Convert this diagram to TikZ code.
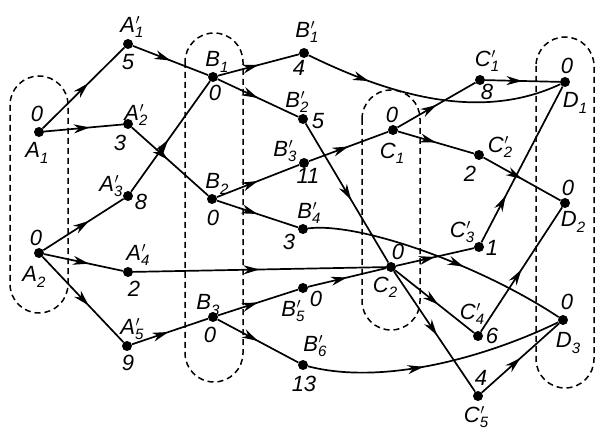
\documentclass[tikz,border=0pt]{standalone}
\usepackage{fontspec}
\setmainfont{Liberation Sans}
\usetikzlibrary{arrows.meta,decorations.markings}

\newcommand\subsz{\fontsize{15}{17}\selectfont}
\newcommand\sub[2]{#1\raisebox{-0.45ex}{\subsz#2}}
\newcommand\subp[2]{#1\makebox[0pt][l]{\kern0.5pt$^{\prime}$}\raisebox{-0.45ex}{\subsz#2}}

\begin{document}
\begin{tikzpicture}[
    x=1pt, y=-1pt,
    vtx/.style={
        circle,
        fill,
        inner sep=0pt,
        minimum size=10pt
    },
    lab/.style={
        font=\fontsize{22}{26}\selectfont\itshape,
        inner sep=0pt
    },
    lb/.style n args={3}{label={[lab,xshift=#1pt,yshift=#2pt]center:#3}},
    edge/.style={line width=1.7pt},
    arr/.style={
        edge,
        postaction={decorate},
        decoration={markings,
            mark=at position #1 with {\arrow{Stealth[length=16pt,width=9pt,inset=5pt]}}}
    },
    arr/.default=0.5,
    grp/.style={line width=1.5pt, dash pattern=on 6pt off 4pt, rounded corners=29pt}
]
\useasboundingbox (0,0) rectangle (600,435);

% Groups
\draw[grp] (10,76) rectangle (68,313);
\draw[grp] (185,33) rectangle (243,382);
\draw[grp] (362,90) rectangle (420,330);
\draw[grp] (536,37) rectangle (594,388);

% Nodes
\node[vtx, lb={-2}{18}{0}, lb={-2}{-21}{\sub{A}{1}}] (a1) at (39,132) {};
\node[vtx, lb={-3}{15}{0}, lb={-5}{-24}{\sub{A}{2}}] (a2) at (39,253) {};

\node[vtx, lb={4}{17}{\subp{A}{1}}, lb={0}{-18}{5}] (a1p) at (128,44) {};
\node[vtx, lb={8}{9}{\subp{A}{2}}, lb={-8}{-19}{3}] (a2p) at (128,124) {};
\node[vtx, lb={-17}{10}{\subp{A}{3}}, lb={13}{-6}{8}] (a3p) at (128,196) {};
\node[vtx, lb={10}{17}{\subp{A}{4}}, lb={6}{-17}{2}] (a4p) at (128,272) {};
\node[vtx, lb={5}{17}{\subp{A}{5}}, lb={1}{-17}{9}] (a5p) at (127,346) {};

\node[vtx, lb={4}{15}{\sub{B}{1}}, lb={2}{-16}{0}] (b1) at (213,77) {};
\node[vtx, lb={5}{15}{\sub{B}{2}}, lb={1}{-19}{0}] (b2) at (212,199) {};
\node[vtx, lb={-5}{12}{\sub{B}{3}}, lb={-3}{-18}{0}] (b3) at (213,317) {};

\node[vtx, lb={3}{21}{\subp{B}{1}}, lb={-5}{-15}{4}] (b1p) at (304,53) {};
\node[vtx, lb={-6}{17}{\subp{B}{2}}, lb={15}{-2}{5}] (b2p) at (303,119) {};
\node[vtx, lb={-19}{12}{\subp{B}{3}}, lb={4}{-13}{11}] (b3p) at (304,163) {};
\node[vtx, lb={6}{16}{\subp{B}{4}}, lb={-14}{-13}{3}] (b4p) at (303,229) {};
\node[vtx, lb={-10}{-23}{\subp{B}{5}}, lb={13}{-11}{0}] (b5p) at (303,288) {};
\node[vtx, lb={12}{19}{\subp{B}{6}}, lb={1}{-19}{13}] (b6p) at (303,365) {};

\node[vtx, lb={-1}{15}{0}, lb={-1}{-23}{\sub{C}{1}}] (c1) at (393,130) {};
\node[vtx, lb={7}{15}{0}, lb={-6}{-20}{\sub{C}{2}}] (c2) at (391,267) {};

\node[vtx, lb={7}{19}{\subp{C}{1}}, lb={7}{-12}{8}] (c1p) at (480,80) {};
\node[vtx, lb={21}{8}{\subp{C}{2}}, lb={-9}{-19}{2}] (c2p) at (479,155) {};
\node[vtx, lb={-17}{15}{\subp{C}{3}}, lb={13}{-1}{1}] (c3p) at (479,247) {};
\node[vtx, lb={-6}{22}{\subp{C}{4}}, lb={14}{0}{6}] (c4p) at (478,336) {};
\node[vtx, lb={3}{18}{4}, lb={-2}{-21}{\subp{C}{5}}] (c5p) at (478,396) {};

\node[vtx, lb={2}{16}{0}, lb={10}{-21}{\sub{D}{1}}] (d1) at (565,82) {};
\node[vtx, lb={3}{15}{0}, lb={8}{-19}{\sub{D}{2}}] (d2) at (565,203) {};
\node[vtx, lb={4}{18}{0}, lb={5}{-23}{\sub{D}{3}}] (d3) at (563,320) {};

% Arrows
\draw[arr=0.56] (a1) -- (a1p);
\draw[arr=0.58] (a1) -- (a2p);
\draw[arr] (a1p) -- (b1);
\draw[arr=0.47] (a2p) -- (b2);
\draw[arr=0.57] (a2) -- (a3p);
\draw[arr=0.47] (a3p) -- (b1);
\draw[arr=0.57] (a2) -- (a4p);
\draw[arr] (a4p) -- (c2);
\draw[arr=0.57] (a2) -- (a5p);
\draw[arr=0.48] (a5p) -- (b3);

\draw[arr] (b1) -- (b1p);
\draw[arr] (b1) -- (b2p);
\draw[arr=0.25] (b1p) .. controls (390,95) and (480,122) .. (d1);
\draw[arr=0.55] (b2p) -- (c2);
\draw[arr] (b2) -- (b3p);
\draw[arr] (b3p) -- (c1);
\draw[arr] (b2) -- (b4p);
\draw[arr=0.6] (b4p) .. controls (360,222) and (480,265) .. (d3);
\draw[arr] (b3) -- (b5p);
\draw[arr] (b5p) -- (c2);
\draw[arr] (b3) -- (b6p);
\draw[arr=0.45] (b6p) .. controls (380,385) and (480,360) .. (d3);

\draw[arr] (c1) -- (c1p);
\draw[arr] (c1p) -- (d1);
\draw[arr] (c1) -- (c2p);
\draw[arr] (c2p) -- (d2);
\draw[arr] (c2) -- (c3p);
\draw[arr=0.3] (c3p) -- (d1);
\draw[arr=0.55] (c2) -- (c4p);
\draw[arr] (c4p) -- (d2);
\draw[arr=0.53] (c2) -- (c5p);
\draw[arr] (c5p) -- (d3);

\end{tikzpicture}
\end{document}
